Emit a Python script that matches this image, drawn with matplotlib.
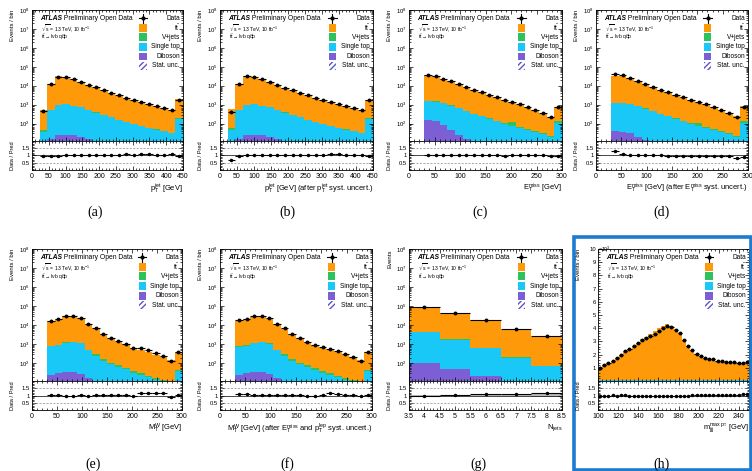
import numpy as np
import matplotlib
matplotlib.use('Agg')
import matplotlib.pyplot as plt
from matplotlib.patches import Rectangle
from matplotlib.ticker import (AutoMinorLocator, FixedLocator, LogLocator, NullFormatter, FuncFormatter,
                               LogFormatterMathtext)

plt.rcParams['font.family'] = ['Liberation Sans', 'DejaVu Sans']
plt.rcParams['mathtext.fontset'] = 'custom'
plt.rcParams['mathtext.rm'] = 'Liberation Sans'
plt.rcParams['mathtext.it'] = 'Liberation Sans:italic'
plt.rcParams['mathtext.bf'] = 'Liberation Sans:bold'
plt.rcParams['mathtext.default'] = 'regular'
plt.rcParams['axes.linewidth'] = 0.6

nan = np.nan

# (a) leading jet pT, 22.5 GeV bins, last bin = overflow
edges_a = np.linspace(0, 450, 21)
tot_a = [0, 500, 1.27e4, 3.1e4, 3.0e4, 2.2e4, 1.55e4, 1.1e4, 7.9e3, 5.6e3, 4.1e3, 3.0e3, 2.2e3, 1.7e3, 1.3e3, 1.05e3, 830, 650, 500, 1.9e3]
st_a = [0, 36, 500, 920, 1000, 820, 700, 500, 370, 280, 210, 150, 115, 90, 72, 58, 48, 40, 30, 180]
vj_a = [0, 12, 15, 20, 20, 18, 15, 12, 10, 8, 6, 5, 4, 3, 3, 2, 2, 2, 1, 6]
db_a = [0, 0, 15, 25, 25, 24, 20, 16, 12, 0, 0, 0, 0, 0, 0, 0, 0, 0, 0, 0]
ratio_a = [nan, 0.95, 0.97, 0.98, 1.0, 1.0, 1.02, 1.02, 1.03, 1.03, 1.05, 1.05, 1.07, 1.05, 1.08, 1.07, 1.06, 1.05, 1.07, 0.95]

# (b) same after jet syst.
tot_b = [0, 560, 1.25e4, 3.1e4, 3.0e4, 2.2e4, 1.55e4, 1.1e4, 7.8e3, 5.5e3, 4.0e3, 3.0e3, 2.2e3, 1.7e3, 1.3e3, 1.05e3, 820, 640, 480, 1.85e3]
st_b = [0, 45, 500, 920, 1000, 820, 700, 500, 370, 280, 210, 150, 115, 90, 72, 58, 48, 40, 30, 180]
vj_b = [0, 15, 15, 20, 20, 18, 15, 12, 10, 8, 6, 5, 4, 3, 3, 2, 2, 2, 1, 6]
db_b = [0, 0, 15, 25, 25, 24, 20, 16, 12, 0, 0, 0, 0, 0, 0, 0, 0, 0, 0, 0]
ratio_b = [nan, 0.7, 0.98, 1.0, 1.0, 1.02, 1.02, 1.02, 1.03, 1.03, 1.04, 1.05, 1.05, 1.05, 1.08, 1.07, 1.05, 1.05, 1.05, 0.95]

# (c) MET, 15 GeV bins
edges_c = np.linspace(0, 300, 21)
tot_c = [0, 0, 3.5e4, 3.1e4, 2.3e4, 1.7e4, 1.2e4, 8.5e3, 6.1e3, 4.5e3, 3.2e3, 2.4e3, 1.8e3, 1.35e3, 1.0e3, 720, 500, 340, 225, 780]
st_c = [0, 0, 1.4e3, 1.3e3, 1.1e3, 850, 620, 430, 320, 240, 180, 135, 100, 78, 60, 46, 36, 28, 20, 110]
vj_c = [0, 0, 30, 28, 25, 20, 16, 13, 10, 8, 7, 6, 5, 40, 4, 3, 3, 2, 2, 25]
db_c = [0, 0, 150, 140, 80, 45, 25, 16, 0, 0, 0, 0, 0, 0, 0, 0, 0, 0, 0, 0]
ratio_c = [nan, nan, 1.03, 1.03, 1.02, 1.03, 1.02, 1.03, 1.03, 1.02, 1.0, 1.0, 0.97, 1.03, 1.05, 1.02, 1.0, 1.03, 0.95, 0.95]

# (d) MET after syst.
tot_d = [0, 0, 3.4e4, 3.2e4, 2.5e4, 1.8e4, 1.25e4, 8.8e3, 6.3e3, 4.6e3, 3.3e3, 2.5e3, 1.85e3, 1.4e3, 1.05e3, 760, 540, 370, 250, 800]
st_d = [0, 0, 1.15e3, 1.2e3, 1.05e3, 830, 610, 440, 320, 240, 180, 135, 100, 78, 60, 46, 36, 28, 20, 110]
vj_d = [0, 0, 30, 28, 25, 20, 16, 13, 10, 8, 7, 6, 5, 30, 4, 3, 3, 2, 2, 25]
db_d = [0, 0, 40, 38, 30, 20, 13, 0, 0, 0, 0, 0, 0, 0, 0, 0, 0, 0, 0, 0]
ratio_d = [nan, nan, 1.28, 1.1, 1.05, 1.03, 1.02, 1.0, 1.0, 0.98, 0.97, 0.96, 0.95, 0.95, 0.97, 0.97, 0.95, 0.96, 0.85, 0.9]

# (e) MTW
tot_e = [0, 0, 1.66e4, 2.1e4, 2.9e4, 3.2e4, 2.3e4, 1.2e4, 6.7e3, 3.5e3, 2.1e3, 1.4e3, 990, 680, 530, 420, 290, 220, 150, 390]
st_e = [0, 0, 770, 850, 1.2e3, 1.3e3, 1.1e3, 470, 260, 140, 90, 65, 50, 33, 25, 19, 14, 12, 8, 40]
vj_e = [0, 0, 20, 25, 35, 40, 40, 30, 40, 30, 20, 15, 10, 8, 5, 4, 3, 2, 2, 5]
db_e = [0, 0, 24, 30, 35, 35, 28, 18, 0, 0, 0, 0, 0, 0, 0, 0, 0, 0, 0, 0]
ratio_e = [nan, nan, 1.02, 1.02, 1.0, 1.0, 1.02, 1.0, 1.02, 1.03, 1.03, 1.02, 1.02, 1.0, 1.2, 1.2, 1.15, 1.18, 0.9, 1.05]

# (f) MTW after syst.
tot_f = [0, 0, 1.6e4, 2.05e4, 2.8e4, 3.1e4, 2.25e4, 1.18e4, 6.5e3, 3.4e3, 2.05e3, 1.38e3, 980, 660, 520, 410, 285, 215, 148, 380]
st_f = [0, 0, 740, 830, 1.15e3, 1.25e3, 1.05e3, 460, 255, 138, 88, 64, 48, 32, 25, 19, 14, 12, 8, 38]
vj_f = [0, 0, 20, 25, 35, 40, 40, 30, 40, 30, 20, 15, 10, 8, 5, 4, 3, 2, 2, 5]
db_f = [0, 0, 24, 30, 35, 35, 28, 18, 0, 0, 0, 0, 0, 0, 0, 0, 0, 0, 0, 0]
ratio_f = [nan, nan, 1.12, 1.08, 1.05, 1.05, 1.05, 1.05, 1.05, 1.05, 1.03, 1.0, 1.0, 1.05, 1.15, 1.1, 1.05, 1.05, 0.95, 1.05]

# (g) jet multiplicity
edges_g = [3.5, 4.5, 5.5, 6.5, 7.5, 8.5]
tot_g = [9.5e4, 4.4e4, 1.8e4, 5.9e3, 2.3e3]
st_g = [4.3e3, 1.7e3, 600, 190, 70]
vj_g = [150, 60, 25, 10, 4]
db_g = [110, 52, 23, 8, 3]
ratio_g = [0.98, 1.03, 1.07, 1.12, 1.2]
band_g = [0.01, 0.015, 0.03, 0.05, 0.08]

# (h) three-jet mass, linear scale
edges_h = np.linspace(100, 250, 37)
tot_h = [990, 1200, 1330, 1500, 1710, 1940, 2190, 2450, 2680, 2910, 3160, 3370, 3570, 3780, 3980, 4180,
         4290, 4180, 3950, 3600, 3110, 2680, 2320, 2040, 1860, 1730, 1630, 1560, 1480, 1430, 1400, 1380,
         1350, 1330, 1300, 1280]
st_h = [45, 48, 50, 52, 55, 58, 60, 62, 64, 66, 68, 70, 72, 73, 74, 75, 75, 74, 72, 70, 67, 64, 60, 57,
        54, 52, 50, 48, 46, 44, 43, 42, 41, 40, 39, 38]
vj_h = [20, 21, 22, 23, 24, 25, 26, 27, 28, 29, 30, 30, 31, 31, 31, 31, 30, 30, 29, 28, 27, 26, 25, 24,
        23, 22, 22, 21, 21, 20, 20, 19, 19, 18, 18, 18]
db_h = [3] * 36
ratio_h = [1.0, 1.0, 1.0, 1.02, 1.0, 1.02, 1.03, 1.0, 1.0, 1.0, 0.98, 0.97, 0.96, 0.95, 0.95, 0.96, 0.97, 0.98,
           0.98, 1.0, 1.0, 1.0, 1.02, 1.02, 1.03, 1.02, 1.03, 1.05, 1.03, 1.04, 1.03, 1.05, 1.05, 1.05, 1.07, 1.1]

C_TT = '#fe9a0a'
C_VJ = '#2ec25c'
C_ST = '#19c8f6'
C_DB = '#7c5fd4'

W, H = 752, 471
fig = plt.figure(figsize=(W / 100, H / 100), dpi=100)


def rect(x0, x1, y0, y1):
    return [x0 / W, 1 - y1 / H, (x1 - x0) / W, (y1 - y0) / H]


def style(ax):
    ax.tick_params(which='both', direction='in', top=True, right=True, width=0.5, labelsize=4.6, pad=1.5)
    ax.tick_params(which='major', length=3)
    ax.tick_params(which='minor', length=1.5)


def draw_legend(ax):
    xm, xt = 0.735, 0.98
    ys = [0.937, 0.865, 0.792, 0.718, 0.645, 0.573]
    kw = dict(transform=ax.transAxes, clip_on=False)
    ax.plot([xm - 0.028, xm + 0.028], [ys[0], ys[0]], color='k', lw=0.8, **kw)
    ax.plot([xm, xm], [ys[0] - 0.035, ys[0] + 0.035], color='k', lw=0.8, **kw)
    ax.plot([xm], [ys[0]], 'o', color='k', ms=2, **kw)
    for y, c in zip(ys[1:5], [C_TT, C_VJ, C_ST, C_DB]):
        ax.add_patch(Rectangle((xm - 0.024, y - 0.03), 0.048, 0.06, color=c, lw=0, **kw))
    ax.add_patch(Rectangle((xm - 0.024, ys[5] - 0.03), 0.048, 0.06, fill=False, hatch='//////',
                           edgecolor='#5a55c8', lw=0, **kw))
    labels = ['Data', r'$t\bar{t}$', 'V+jets', 'Single top', 'Diboson', 'Stat. unc.']
    for y, lab in zip(ys, labels):
        ax.text(xt, y, lab, ha='right', va='center', fontsize=4.7, transform=ax.transAxes)
    t1 = ax.text(0.053, 0.937, 'ATLAS', weight='bold', style='italic', fontsize=4.9,
                 ha='left', va='center', transform=ax.transAxes)
    ax.annotate(' Preliminary Open Data', xy=(1, 0.5), xycoords=t1, ha='left', va='center', fontsize=4.9)
    ax.text(0.062, 0.858, r'$\sqrt{s}$ = 13 TeV, 10 fb$^{-1}$', fontsize=3.6, ha='left', va='center',
            transform=ax.transAxes)
    ax.text(0.062, 0.79, r'$t\bar{t}\rightarrow l\nu b\ q\bar{q}b$', fontsize=3.6, ha='left', va='center',
            transform=ax.transAxes)


def panel(x0, x1, row, edges, tot, st, vj, db, ratio, xlabel, xticks, tag, tag_x,
          log=True, ylabel='Events / bin', band=None):
    ytop, ymid, ybot = row
    ax = fig.add_axes(rect(x0, x1, ytop, ymid))
    axr = fig.add_axes(rect(x0, x1, ymid, ybot), sharex=ax)
    edges = np.asarray(edges, float)
    tot, st, vj, db, ratio = [np.asarray(a, float) for a in (tot, st, vj, db, ratio)]
    tt = np.clip(tot - st - vj - db, 0, None)
    centers = 0.5 * (edges[1:] + edges[:-1])
    half = 0.5 * np.diff(edges)

    # stack: diboson, single top, V+jets, ttbar
    base = np.zeros_like(tot)
    for vals, c in [(db, C_DB), (st, C_ST), (vj, C_VJ), (tt, C_TT)]:
        top = base + vals
        ax.stairs(top, edges, baseline=base.copy(), fill=True, color=c, lw=0)
        base = top

    m = tot > 0
    data = tot * np.nan_to_num(ratio)
    ax.errorbar(centers[m], data[m], xerr=half[m], yerr=np.sqrt(data[m]), fmt='o', ms=1.8,
                color='k', elinewidth=0.8, capsize=0, zorder=5)

    if band is not None:
        band = np.asarray(band, float)
        axr.stairs(1 + band, edges, baseline=1 - band, fill=True, color='#b8b8b8', lw=0)
    axr.axhline(1, color='k', lw=0.5)
    for v in (0.5, 1.5):
        axr.axhline(v, color='#888888', lw=0.5, ls=(0, (3, 2)))
    axr.errorbar(centers[m], ratio[m], xerr=half[m], yerr=np.sqrt(data[m]) / tot[m], fmt='o', ms=1.5,
                 color='k', elinewidth=0.8, capsize=0, zorder=5)

    ax.set_xlim(min(edges[0], xticks[0]), max(edges[-1], xticks[-1]))
    if log:
        ax.set_yscale('log')
        ax.set_ylim(12, 1e8)
        ax.yaxis.set_major_locator(FixedLocator(10.0 ** np.arange(2, 9)))
        ax.yaxis.set_major_formatter(LogFormatterMathtext())
        ax.yaxis.set_minor_locator(LogLocator(base=10, subs=np.arange(2, 10), numticks=12))
        ax.yaxis.set_minor_formatter(NullFormatter())
    else:
        ax.set_ylim(0, 10000)
        ax.yaxis.set_major_locator(FixedLocator(np.arange(1000, 10001, 1000)))
        ax.yaxis.set_major_formatter(FuncFormatter(lambda v, p: '%d' % round(v / 1000)))
        ax.yaxis.set_minor_locator(AutoMinorLocator(5))
        ax.text(0.0, 1.0, r'$\times10^{3}$', fontsize=3.8, ha='left', va='center', transform=ax.transAxes)
    style(ax)
    style(axr)
    ax.tick_params(labelbottom=False, labelsize=4.2)
    axr.set_ylim(0, 2)
    axr.yaxis.set_major_locator(FixedLocator([0.5, 1, 1.5]))
    axr.yaxis.set_major_formatter(FuncFormatter(lambda v, p: '%g' % v))
    axr.yaxis.set_minor_locator(AutoMinorLocator(5))
    axr.tick_params(axis='y', labelsize=4.2)
    axr.xaxis.set_major_locator(FixedLocator(xticks))
    axr.xaxis.set_major_formatter(FuncFormatter(lambda v, p: '%g' % v))
    axr.xaxis.set_minor_locator(AutoMinorLocator(5))
    axr.tick_params(axis='x', labelsize=5, pad=2.5)
    axr.set_xlabel(xlabel, loc='right', fontsize=5.4, labelpad=1)
    draw_legend(ax)

    fig.text((x0 - 19) / W, 1 - ytop / H, ylabel, rotation=90, ha='center', va='top', fontsize=4.3)
    fig.text((x0 - 19) / W, 1 - 0.5 * (ymid + ybot) / H, 'Data / Pred', rotation=90, ha='center',
             va='center', fontsize=4.1)
    cap_y = 212 if ytop < 100 else 464
    fig.text(tag_x / W, 1 - cap_y / H, tag, family=['Liberation Serif', 'DejaVu Serif'], fontsize=10,
             ha='center', va='center')
    return ax, axr


top_row = (10, 141, 170)
bot_row = (249, 381, 410)
tick450 = np.arange(0, 451, 50)
tick300 = np.arange(0, 301, 50)

panel(32, 183, top_row, edges_a, tot_a, st_a, vj_a, db_a, ratio_a,
      r'$p_{T}^{jet}$ [GeV]', tick450, '(a)', 95)
panel(220, 373, top_row, edges_a, tot_b, st_b, vj_b, db_b, ratio_b,
      r'$p_{T}^{jet}$ [GeV] (after $p_{T}^{jet}$ syst. uncert.)', tick450, '(b)', 287)
panel(409, 562, top_row, edges_c, tot_c, st_c, vj_c, db_c, ratio_c,
      r'$E_{T}^{miss}$ [GeV]', tick300, '(c)', 480)
panel(596, 748, top_row, edges_c, tot_d, st_d, vj_d, db_d, ratio_d,
      r'$E_{T}^{miss}$ [GeV] (after $E_{T}^{miss}$ syst. uncert.)', tick300, '(d)', 662)
panel(32, 182, bot_row, edges_c, tot_e, st_e, vj_e, db_e, ratio_e,
      r'$M_{T}^{W}$ [GeV]', tick300, '(e)', 93)
panel(220, 372, bot_row, edges_c, tot_f, st_f, vj_f, db_f, ratio_f,
      r'$M_{T}^{W}$ [GeV] (after $E_{T}^{miss}$ and $p_{T}^{lep}$ syst. uncert.)', tick300, '(f)', 287)
panel(409, 562, bot_row, edges_g, tot_g, st_g, vj_g, db_g, ratio_g,
      r'$N_{jets}$', np.arange(3.5, 8.51, 0.5), '(g)', 478, ylabel='Events', band=band_g)
axh, axhr = panel(598, 749, bot_row, edges_h, tot_h, st_h, vj_h, db_h, ratio_h,
                  r'$m_{jjj}^{max\ p_{T}}$ [GeV]', np.arange(100, 241, 20), '(h)', 662, log=False)
axh.set_xlim(100, 250)

# blue highlight frame around panel (h)
fig.patches.append(Rectangle((573.5 / W, 1 - 469.5 / H), 177 / W, 233 / H, transform=fig.transFigure,
                             fill=False, edgecolor='#1e7bd0', lw=2.6))

fig.savefig('out.png', dpi=100)
